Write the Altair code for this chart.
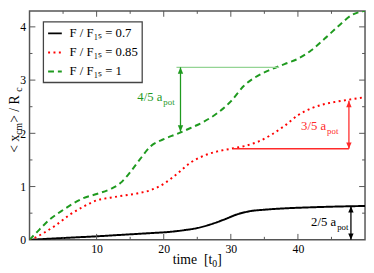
import altair as alt
import pandas as pd

# ---------------- data ----------------
labels = ["F / F₁ₛ = 0.7", "F / F₁ₛ = 0.85", "F / F₁ₛ = 1"]

t_07 = [0, 3, 6, 10, 14, 18, 21, 23, 25, 27, 29, 31, 33, 35, 38, 42, 46, 50]
x_07 = [0, 0.02, 0.04, 0.065, 0.095, 0.125, 0.15, 0.18, 0.22, 0.29, 0.38, 0.48,
        0.54, 0.565, 0.59, 0.61, 0.625, 0.635]

t_085 = [0, 1, 2, 4, 6, 8, 10, 12, 14, 16, 18, 20, 22, 24, 26, 28, 30, 32, 34,
         36, 38, 40, 42, 44, 46, 48, 50]
x_085 = [0, 0.05, 0.12, 0.28, 0.47, 0.62, 0.74, 0.79, 0.83, 0.87, 0.93, 1.05,
         1.24, 1.45, 1.58, 1.66, 1.71, 1.76, 1.84, 1.97, 2.14, 2.34, 2.47, 2.55,
         2.6, 2.64, 2.68]

t_1 = [0, 1, 3, 5, 8, 10, 12, 13.5, 15, 16.5, 18, 20, 22, 24, 26, 28, 30, 32,
       34, 36, 38, 40, 42, 44, 46, 48, 50]
x_1 = [0, 0.13, 0.38, 0.56, 0.78, 0.86, 0.95, 1.06, 1.27, 1.52, 1.75, 1.89,
       1.99, 2.1, 2.22, 2.38, 2.6, 2.9, 3.08, 3.2, 3.3, 3.4, 3.56, 3.78, 4.01,
       4.22, 4.3]

x_major = [10, 20, 30, 40]
x_minor = [5, 15, 25, 35, 45]
y_major = [1, 2, 3, 4]
y_minor = [0.5, 1.5, 2.5, 3.5]
x_labels = [10, 20, 30, 40]
y_labels = [0, 1, 2, 3, 4]

# annotations (data coordinates)
green_hline = {"x1": [21.9], "x2": [37.2], "y": [3.24]}
green_arrow = {"x": [22.5], "y1": [2.03], "y2": [3.24]}
green_text = {"x": [19.8], "y": [2.6], "main": ["4/5 a"], "sub": ["pot"]}

red_hline = {"x1": [30.4], "x2": [47.6], "y": [1.71]}
red_arrow = {"x": [47.6], "y1": [1.71], "y2": [2.61]}
red_text = {"x": [44.2], "y": [2.06], "main": ["3/5 a"], "sub": ["pot"]}

black_arrow = {"x": [47.9], "y1": [0.0], "y2": [0.63]}
black_text = {"x": [45.7], "y": [0.26], "main": ["2/5 a"], "sub": ["pot"]}

# ---------------- style ----------------
W, H = 343, 234
FONT = "Liberation Serif, Times New Roman, serif"
AX = "#555555"
GREEN = "#1f9a1f"
GREEN_LIGHT = "#94d494"
RED = "#ff2a2a"
colors = ["black", "red", GREEN]
dashes = [[1, 0], [2, 3.5], [6, 4]]
NB = "\u00a0"

TIMES = {' ': 250, NB: 250, '<': 564, '>': 564, '/': 278, 'x': 500, 'c': 444,
         'm': 778, 'R': 667, 't': 278, 'i': 278, 'e': 444, '[': 333, ']': 333,
         '0': 500}


def tw(s, size):
    return sum(TIMES.get(ch, 500) for ch in s) * size / 1000.0


xs = alt.Scale(domain=[0, 50], nice=False, zero=False)
ys = alt.Scale(domain=[0, 4.3], nice=False, zero=False)
AXX = alt.Axis(values=x_labels, title=None, ticks=False, domain=False, grid=False,
               labelFont=FONT, labelFontSize=12, labelColor="black",
               labelPadding=4, format="d")
AXY = alt.Axis(values=y_labels, title=None, ticks=False, domain=False, grid=False,
               labelFont=FONT, labelFontSize=12, labelColor="black",
               labelPadding=4, format="d")

rows = []
for lab, ts, vs in zip(labels, [t_07, t_085, t_1], [x_07, x_085, x_1]):
    for t, v in zip(ts, vs):
        rows.append({"t": t, "x": v, "s": lab})
df = pd.DataFrame(rows)

LEG = dict(title=None, orient="none", legendX=14, legendY=11, symbolType="stroke",
           symbolSize=196, symbolStrokeWidth=2, labelFont=FONT, labelFontSize=13,
           labelColor="black", labelOffset=7, padding=4, rowPadding=4.5,
           strokeColor="#444444", fillColor="white")

lines = alt.Chart(df).mark_line(strokeWidth=2, interpolate="monotone", clip=True,
                                strokeCap="butt").encode(
    x=alt.X("t:Q", scale=xs, axis=AXX),
    y=alt.Y("x:Q", scale=ys, axis=AXY),
    color=alt.Color("s:N", scale=alt.Scale(domain=labels, range=colors),
                    legend=alt.Legend(**LEG)),
    strokeDash=alt.StrokeDash("s:N", scale=alt.Scale(domain=labels, range=dashes),
                              legend=alt.Legend(**LEG)),
)


def xticks(vals, y0, y1):
    return alt.Chart(pd.DataFrame({"v": vals})).mark_rule(
        color=AX, strokeWidth=1).encode(
        x=alt.X("v:Q", axis=AXX), y=alt.value(y0), y2=alt.value(y1))


def yticks(vals, x0, x1):
    return alt.Chart(pd.DataFrame({"v": vals})).mark_rule(
        color=AX, strokeWidth=1).encode(
        y=alt.Y("v:Q", axis=AXY), x=alt.value(x0), x2=alt.value(x1))


ticks = [
    xticks(x_major, H, H - 6), xticks(x_minor, H, H - 3),
    xticks(x_major, 0, 6), xticks(x_minor, 0, 3),
    yticks(y_major, 0, 6), yticks(y_minor, 0, 3),
    yticks(y_major, W, W - 6), yticks(y_minor, W, W - 3),
]


def hline(d, color):
    return alt.Chart(pd.DataFrame(d)).mark_rule(color=color, strokeWidth=1.3).encode(
        x=alt.X("x1:Q", axis=AXX), x2="x2:Q", y=alt.Y("y:Q", axis=AXY))


UP = "M0,0L-0.42,1L0.42,1Z"
DOWN = "M0,0L-0.42,-1L0.42,-1Z"


def arrow(d, color):
    dd = pd.DataFrame(d)
    shaft = alt.Chart(dd).mark_rule(color=color, strokeWidth=1.3).encode(
        x=alt.X("x:Q", axis=AXX), y=alt.Y("y1:Q", axis=AXY), y2="y2:Q")
    top = alt.Chart(dd).mark_point(shape=UP, filled=True, size=170, opacity=1,
                                   color=color, strokeWidth=0).encode(
        x=alt.X("x:Q", axis=AXX), y=alt.Y("y2:Q", axis=AXY))
    bot = alt.Chart(dd).mark_point(shape=DOWN, filled=True, size=170, opacity=1,
                                   color=color, strokeWidth=0).encode(
        x=alt.X("x:Q", axis=AXX), y=alt.Y("y1:Q", axis=AXY))
    return [shaft, top, bot]


def label(d, color):
    dd = pd.DataFrame(d)
    main = alt.Chart(dd).mark_text(align="right", baseline="alphabetic", font=FONT,
                                   fontSize=13, color=color).encode(
        x=alt.X("x:Q", axis=AXX), y=alt.Y("y:Q", axis=AXY), text="main:N")
    sub = alt.Chart(dd).mark_text(align="left", baseline="alphabetic", font=FONT,
                                  fontSize=9, color=color, dx=1, dy=4).encode(
        x=alt.X("x:Q", axis=AXX), y=alt.Y("y:Q", axis=AXY), text="sub:N")
    return [main, sub]


annots = []
annots.append(hline(green_hline, GREEN_LIGHT))
annots += arrow(green_arrow, GREEN)
annots += label(green_text, GREEN)
annots.append(hline(red_hline, RED))
annots += arrow(red_arrow, RED)
annots += label(red_text, RED)
annots += arrow(black_arrow, "black")
annots += label(black_text, "black")

# ---------------- axis titles (built from pieces for subscripts) ----------------
one = pd.DataFrame({"k": [0]})
titles = []

# y title, rotated, reading upward
ypieces = [("<" + NB + "x", 14, 0), ("cm", 10, 3),
           (NB + ">" + NB + "/" + NB + "R", 14, 0), ("c", 10, 3)]
ypos = 145.0
for s, fs, shift in ypieces:
    titles.append(alt.Chart(one).mark_text(
        text=s, font=FONT, fontSize=fs, angle=270, align="left",
        baseline="alphabetic", color="black").encode(
        x=alt.value(-11 + shift), y=alt.value(ypos)))
    ypos -= tw(s, fs)

# x title
xpieces = [("time" + NB + NB + "[t", 14, 0), ("0", 10, 3), ("]", 14, 0)]
total = sum(tw(s, fs) for s, fs, _ in xpieces)
xpos = W / 2 - total / 2
for s, fs, shift in xpieces:
    titles.append(alt.Chart(one).mark_text(
        text=s, font=FONT, fontSize=fs, align="left", baseline="alphabetic",
        color="black").encode(x=alt.value(xpos), y=alt.value(258.5 + shift)))
    xpos += tw(s, fs)

chart = alt.layer(lines, *ticks, *annots, *titles).properties(
    width=W, height=H,
    autosize=alt.AutoSizeParams(type="none"),
    padding={"left": 22, "top": 0, "right": 1, "bottom": 31},
).configure(background="white").configure_view(
    stroke=AX, strokeWidth=1.5
).configure_legend(strokeWidth=1.3)

chart.save("out.html", embed_options={"renderer": "svg", "actions": False})
